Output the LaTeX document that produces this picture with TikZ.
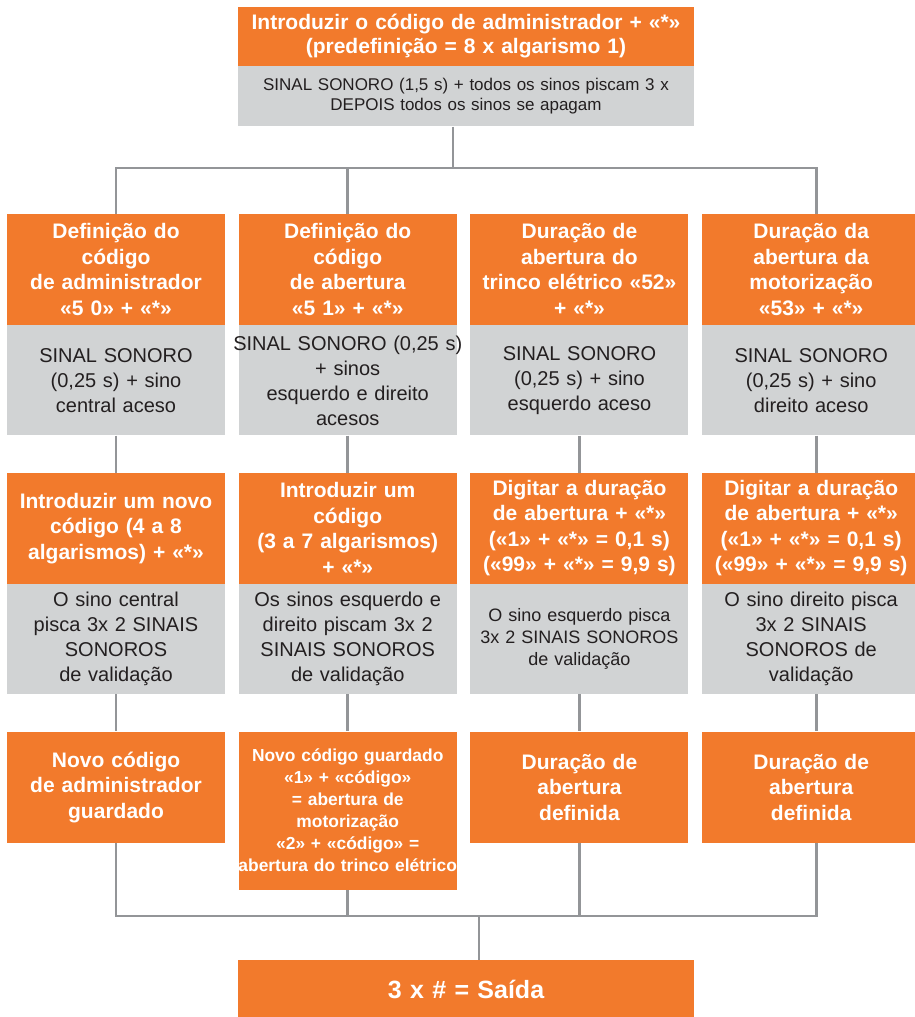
\documentclass[tikz,border=0pt]{standalone}
\usepackage{fontspec}
\setmainfont{Liberation Sans}
\usepackage{tikz}
\usetikzlibrary{positioning}

\definecolor{orng}{RGB}{242,122,44}
\definecolor{gry}{RGB}{209,211,212}
\definecolor{lngray}{RGB}{147,149,152}
\definecolor{ink}{RGB}{35,31,32}

\begin{document}
\begin{tikzpicture}[
    x=1pt, y=-1pt,
    node distance=13.33pt,
    hdbox/.style={fill=orng, text=white, font=\fontsize{21}{25.5}\selectfont\bfseries, align=center, text width=218pt, minimum height=111pt, inner sep=0pt},
    infobox/.style={fill=gry, text=ink, font=\fontsize{20}{25}\selectfont, align=center, text width=218pt, minimum height=110pt, inner sep=0pt},
    link/.style={draw=lngray, line width=2.7pt}
]
\useasboundingbox (0,0) rectangle (914,1017);

% top
\node (intro) [hdbox, text width=456pt, minimum height=59pt, font=\fontsize{21}{24}\selectfont\bfseries] at (466,36.5) {Introduzir o código de administrador + «*»\\(predefinição = 8 x algarismo 1)};
\node (introinfo) [infobox, text width=456pt, minimum height=60pt, font=\fontsize{17}{20}\selectfont, below=0pt of intro] {SINAL SONORO (1,5 s) + todos os sinos piscam 3 x\\DEPOIS todos os sinos se apagam};

% first row
\node (defadm) [hdbox] at (116,269.5) {Definição do\\código\\de administrador\\«5 0» + «*»};
\node (defcod) [hdbox, right=of defadm] {Definição do\\código\\de abertura\\«5 1» + «*»};
\node (durtrk) [hdbox, right=of defcod] {Duração de\\abertura do\\trinco elétrico «52»\\+ «*»};
\node (durmot) [hdbox, right=of durtrk] {Duração da\\abertura da\\motorização\\«53» + «*»};

\node (sigadm) [infobox, below=0pt of defadm] {SINAL SONORO\\(0,25 s) + sino\\central aceso};
\node (sigcod) [infobox, below=0pt of defcod] {\makebox[0pt]{SINAL SONORO (0,25 s)}\\+ sinos\\esquerdo e direito\\acesos};
\node (sigtrk) [infobox, below=0pt of durtrk] {SINAL SONORO\\(0,25 s) + sino\\esquerdo aceso};
\node (sigmot) [infobox, below=0pt of durmot] {SINAL SONORO\\(0,25 s) + sino\\direito aceso};

% second row
\node (newadm) [hdbox, below=37pt of sigadm] {Introduzir um novo\\código (4 a 8\\algarismos) + «*»};
\node (newcod) [hdbox, below=37pt of sigcod] {Introduzir um\\código\\(3 a 7 algarismos)\\+ «*»};
\node (settrk) [hdbox, below=37pt of sigtrk] {Digitar a duração\\de abertura + «*»\\(«1» + «*» = 0,1 s)\\(«99» + «*» = 9,9 s)};
\node (setmot) [hdbox, below=37pt of sigmot] {Digitar a duração\\de abertura + «*»\\(«1» + «*» = 0,1 s)\\(«99» + «*» = 9,9 s)};

\node (valadm) [infobox, below=0pt of newadm] {O sino central\\pisca 3x 2 SINAIS\\SONOROS\\de validação};
\node (valcod) [infobox, below=0pt of newcod] {Os sinos esquerdo e\\direito piscam 3x 2\\SINAIS SONOROS\\de validação};
\node (valtrk) [infobox, below=0pt of settrk, font=\fontsize{18}{22}\selectfont] {O sino esquerdo pisca\\3x 2 SINAIS SONOROS\\de validação};
\node (valmot) [infobox, below=0pt of setmot] {O sino direito pisca\\3x 2 SINAIS\\SONOROS de\\validação};

% third row
\node (okadm) [hdbox, below=37pt of valadm] {Novo código\\de administrador\\guardado};
\node (okcod) [hdbox, below=37pt of valcod, minimum height=158pt, font=\fontsize{17.4}{22}\selectfont\bfseries] {Novo código guardado\\«1» + «código»\\= abertura de\\motorização\\«2» + «código» =\\\makebox[0pt]{abertura do trinco elétrico}};
\node (oktrk) [hdbox, below=37pt of valtrk] {Duração de\\abertura\\definida};
\node (okmot) [hdbox, below=37pt of valmot] {Duração de\\abertura\\definida};

% exit
\node (exit) [hdbox, text width=456pt, minimum height=58pt, font=\fontsize{25}{30}\selectfont\bfseries] at (466,989) {3 x \# = Saída};

% connectors
\coordinate (split) at (453,168);
\coordinate (merge) at (479,916);
\draw [link] ([xshift=-13pt]introinfo.south) -- (split);
\draw [link] (defadm.north) |- ([xshift=5pt]durmot.north |- split) -- ([xshift=5pt]durmot.north);
\draw [link] (defcod.north) -- (defcod.north |- split);

\draw [link] (sigadm) -- (newadm);
\draw [link] (sigcod) -- (newcod);
\draw [link] (sigtrk) -- (settrk);
\draw [link] ([xshift=5pt]sigmot.south) -- ([xshift=5pt]setmot.north);

\draw [link] (valadm) -- (okadm);
\draw [link] (valcod) -- (okcod);
\draw [link] (valtrk) -- (oktrk);
\draw [link] ([xshift=5pt]valmot.south) -- ([xshift=5pt]okmot.north);

\draw [link] (okadm.south) |- ([xshift=5pt]okmot.south |- merge) -- ([xshift=5pt]okmot.south);
\draw [link] (okcod.south) -- (okcod.south |- merge);
\draw [link] (oktrk.south) -- (oktrk.south |- merge);
\draw [link] (merge) -- ([xshift=13pt]exit.north);

\end{tikzpicture}
\end{document}
